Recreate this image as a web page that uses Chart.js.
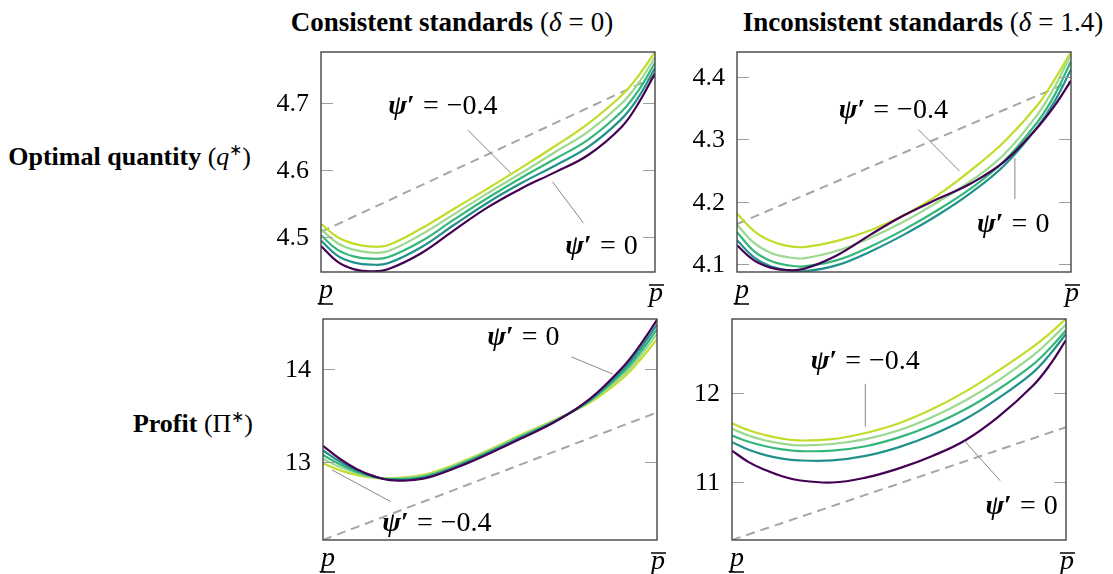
<!DOCTYPE html>
<html>
<head>
<meta charset="utf-8">
<script src="https://cdn.jsdelivr.net/npm/chart.js@4.4.0/dist/chart.umd.min.js"></script>
<style>
body { margin: 0; background: #fff; width: 1113px; height: 574px; position: relative; overflow: hidden; font-family: "Liberation Serif", "Times New Roman", serif; color: #000; }
canvas { position: absolute; }
.lbl { position: absolute; font-size: 26px; white-space: nowrap; line-height: 30px; }
.col { font-size: 27px; transform: translateX(-50%); }
.eq { margin: 0 7px; }
sup { font-size: 16px; }
.txt { position: absolute; white-space: nowrap; line-height: normal; }
.tick { font-size: 26px; transform: translate(-100%, -50%); }
.note { font-size: 28px; transform: translate(-50%, -50%); }
.note .eq { margin: 0 8px; }
.plab { font-size: 28px; font-style: italic; transform: translateX(-50%); }
</style>
</head>
<body>
<div class="lbl col" style="left:452px;top:7px"><b>Consistent standards</b> (<i>δ</i><span class="eq">=</span>0)</div>
<div class="lbl col" style="left:923px;top:7px"><b>Inconsistent standards</b> (<i>δ</i><span class="eq">=</span>1.4)</div>
<div class="lbl" style="right:862px;top:135px;text-align:right"><b>Optimal quantity</b> (<i>q</i><sup>∗</sup>)</div>
<div class="lbl" style="right:860px;top:402px;text-align:right"><b>Profit</b> (Π<sup>∗</sup>)</div>
<canvas id="qCons"></canvas>
<canvas id="qIncons"></canvas>
<canvas id="profitCons"></canvas>
<canvas id="profitIncons"></canvas>
<script>
// price grid, p_lower = 0 ... p_upper = 1
var pGrid = [0, 0.05, 0.1, 0.15, 0.2, 0.3, 0.4, 0.5, 0.6, 0.7, 0.8, 0.9, 0.95, 1];
var psiColors = ['#440154', '#21918c', '#35b779', '#9bd98f', '#c2dc2a'];

// optimal quantity, consistent standards (psi' = 0, -0.1, -0.2, -0.3, -0.4)
var qCons0 = [4.487, 4.463, 4.452, 4.449, 4.452, 4.476, 4.511, 4.545, 4.573, 4.597, 4.623, 4.665, 4.700, 4.745];
var qCons1 = [4.495, 4.472, 4.462, 4.459, 4.461, 4.485, 4.519, 4.552, 4.581, 4.607, 4.635, 4.677, 4.709, 4.753];
var qCons2 = [4.503, 4.481, 4.471, 4.468, 4.470, 4.494, 4.527, 4.559, 4.589, 4.617, 4.646, 4.688, 4.719, 4.761];
var qCons3 = [4.512, 4.491, 4.481, 4.477, 4.479, 4.504, 4.535, 4.566, 4.596, 4.627, 4.658, 4.700, 4.730, 4.769];
var qCons4 = [4.520, 4.500, 4.490, 4.486, 4.488, 4.513, 4.543, 4.573, 4.604, 4.636, 4.670, 4.712, 4.741, 4.777];
var qConsBench = [4.508, 4.740];

// optimal quantity, inconsistent standards
var qIncons0 = [4.130, 4.106, 4.094, 4.090, 4.092, 4.114, 4.147, 4.178, 4.204, 4.229, 4.264, 4.319, 4.353, 4.394];
var qIncons1 = [4.138, 4.111, 4.096, 4.090, 4.088, 4.098, 4.120, 4.147, 4.178, 4.214, 4.258, 4.320, 4.360, 4.412];
var qIncons2 = [4.151, 4.121, 4.105, 4.098, 4.096, 4.106, 4.128, 4.155, 4.186, 4.221, 4.265, 4.328, 4.370, 4.425];
var qIncons3 = [4.163, 4.134, 4.118, 4.111, 4.109, 4.121, 4.142, 4.168, 4.199, 4.233, 4.276, 4.340, 4.383, 4.436];
var qIncons4 = [4.181, 4.153, 4.137, 4.129, 4.127, 4.137, 4.154, 4.178, 4.210, 4.250, 4.296, 4.355, 4.395, 4.440];
var qInconsBench = [4.164, 4.393];

// profit, consistent standards
var profitCons0 = [13.17, 13.03, 12.92, 12.845, 12.80, 12.815, 12.935, 13.09, 13.26, 13.44, 13.68, 14.03, 14.26, 14.53];
var profitCons1 = [13.12, 13.00, 12.905, 12.84, 12.805, 12.825, 12.945, 13.10, 13.27, 13.445, 13.67, 14.00, 14.22, 14.48];
var profitCons2 = [13.07, 12.97, 12.89, 12.835, 12.81, 12.835, 12.955, 13.11, 13.28, 13.45, 13.66, 13.97, 14.18, 14.43];
var profitCons3 = [13.03, 12.94, 12.875, 12.83, 12.815, 12.845, 12.965, 13.12, 13.29, 13.455, 13.65, 13.94, 14.14, 14.38];
var profitCons4 = [12.98, 12.905, 12.855, 12.825, 12.82, 12.855, 12.975, 13.13, 13.30, 13.46, 13.64, 13.91, 14.10, 14.32];
var profitConsBench = [12.152, 13.53];

// profit, inconsistent standards
var profitIncons0 = [11.35, 11.22, 11.13, 11.06, 11.015, 10.99, 11.045, 11.15, 11.29, 11.47, 11.74, 12.08, 12.31, 12.60];
var profitIncons1 = [11.446, 11.36, 11.30, 11.26, 11.24, 11.24, 11.29, 11.39, 11.53, 11.71, 11.95, 12.23, 12.43, 12.67];
var profitIncons2 = [11.52, 11.45, 11.40, 11.365, 11.345, 11.35, 11.40, 11.50, 11.64, 11.82, 12.05, 12.32, 12.50, 12.71];
var profitIncons3 = [11.597, 11.52, 11.465, 11.43, 11.41, 11.425, 11.48, 11.58, 11.73, 11.92, 12.15, 12.42, 12.59, 12.775];
var profitIncons4 = [11.66, 11.58, 11.525, 11.485, 11.465, 11.48, 11.55, 11.66, 11.82, 12.02, 12.26, 12.52, 12.67, 12.84];
var profitInconsBench = [10.34, 11.615];

var qConsTicks = [4.5, 4.6, 4.7];
var qInconsTicks = [4.1, 4.2, 4.3, 4.4];
var profitConsTicks = [13, 14];
var profitInconsTicks = [11, 12];

var Y_W = 60, PAD_T = 16, PAD_R = 20, X_H = 42;

function line(ctx, x1, y1, x2, y2) {
    ctx.beginPath();
    ctx.moveTo(x1, y1);
    ctx.lineTo(x2, y2);
    ctx.stroke();
}

function addText(cls, html, x, y) {
    var d = document.createElement('div');
    d.className = 'txt ' + cls;
    d.innerHTML = html;
    d.style.left = x + 'px';
    d.style.top = y + 'px';
    document.body.appendChild(d);
}

// frame, inner ticks, p bars and pointer lines
var framePlugin = {
    id: 'frame',
    afterDatasetsDraw(chart, args, opts) {
        var ctx = chart.ctx, a = chart.chartArea, xs = chart.scales.x, ys = chart.scales.y;
        ctx.save();
        ctx.strokeStyle = '#a0a0a0';
        ctx.lineWidth = 1;
        ys.ticks.forEach(function (t) {
            var py = Math.round(ys.getPixelForValue(t.value)) + 0.5;
            line(ctx, a.left, py, a.left + 12, py);
            line(ctx, a.right - 12, py, a.right, py);
        });
        ctx.strokeStyle = '#454545';
        ctx.lineWidth = 1.4;
        ctx.strokeRect(a.left, a.top, a.right - a.left, a.bottom - a.top);

        // bars of p lower / p upper
        ctx.strokeStyle = '#000';
        ctx.lineWidth = 1.5;
        var x0 = xs.getPixelForValue(0) + 5, x1 = xs.getPixelForValue(1) + 1;
        line(ctx, x0 - 8, a.bottom + 32, x0 + 7, a.bottom + 32);
        line(ctx, x1 - 7, a.bottom + 13, x1 + 8, a.bottom + 13);

        ctx.strokeStyle = '#888';
        ctx.lineWidth = 1;
        (opts.notes || []).forEach(function (n) {
            line(ctx, xs.getPixelForValue(n.from[0]), ys.getPixelForValue(n.from[1]),
                xs.getPixelForValue(n.to[0]), ys.getPixelForValue(n.to[1]));
        });
        ctx.restore();
    }
};

function makePanel(id, box, series, bench, ticksY, yMin, yMax, dec, notes) {
    var canvas = document.getElementById(id);
    var offX = box.left - Y_W, offY = box.top - PAD_T;
    canvas.width = Y_W + box.w + PAD_R;
    canvas.height = PAD_T + box.h + X_H;
    canvas.style.left = offX + 'px';
    canvas.style.top = offY + 'px';

    var datasets = series.map(function (arr, i) {
        return {
            data: pGrid.map(function (p, k) { return { x: p, y: arr[k] }; }),
            borderColor: psiColors[i],
            borderWidth: 2.2,
            tension: 0.4,
            pointRadius: 0,
            fill: false
        };
    });
    datasets.push({
        data: [{ x: 0, y: bench[0] }, { x: 1, y: bench[1] }],
        borderColor: '#a6a6a6',
        borderWidth: 2,
        borderDash: [9, 6],
        pointRadius: 0,
        fill: false
    });

    var chart = new Chart(canvas.getContext('2d'), {
        type: 'line',
        data: { datasets: datasets },
        options: {
            responsive: false,
            animation: false,
            events: [],
            layout: { padding: { top: PAD_T, right: PAD_R, left: 0, bottom: 0 } },
            plugins: { legend: { display: false }, tooltip: { enabled: false }, frame: { notes: notes } },
            scales: {
                x: {
                    type: 'linear', min: 0, max: 1,
                    grid: { display: false }, border: { display: false },
                    ticks: { display: false },
                    afterFit: function (s) { s.height = X_H; }
                },
                y: {
                    min: yMin, max: yMax,
                    grid: { display: false }, border: { display: false },
                    afterBuildTicks: function (s) { s.ticks = ticksY.map(function (v) { return { value: v }; }); },
                    ticks: { display: false },
                    afterFit: function (s) { s.width = Y_W; }
                }
            }
        },
        plugins: [framePlugin]
    });

    // text as html, placed through the chart scales
    var a = chart.chartArea, xs = chart.scales.x, ys = chart.scales.y;
    ticksY.forEach(function (v) {
        addText('tick', v.toFixed(dec), offX + a.left - 12, offY + ys.getPixelForValue(v));
    });
    addText('plab', 'p', offX + xs.getPixelForValue(0) + 5, offY + a.bottom + 1);
    addText('plab', 'p', offX + xs.getPixelForValue(1) + 1, offY + a.bottom + 4);
    notes.forEach(function (n) {
        addText('note', '<b><i>ψ</i>′</b><span class="eq">=</span>' + n.val,
            offX + xs.getPixelForValue(n.x), offY + ys.getPixelForValue(n.y));
    });
    return chart;
}

makePanel('qCons', { left: 321, top: 52, w: 334, h: 220 },
    [qCons0, qCons1, qCons2, qCons3, qCons4], qConsBench, qConsTicks, 4.448, 4.777, 1,
    [{ val: '−0.4', x: 0.365, y: 4.697, from: [0.44, 4.66], to: [0.568, 4.596] },
     { val: '0', x: 0.84, y: 4.489, from: [0.693, 4.583], to: [0.786, 4.521] }]);

makePanel('qIncons', { left: 737, top: 52, w: 334, h: 220 },
    [qIncons0, qIncons1, qIncons2, qIncons3, qIncons4], qInconsBench, qInconsTicks, 4.087, 4.44, 1,
    [{ val: '−0.4', x: 0.468, y: 4.349, from: [0.542, 4.316], to: [0.666, 4.249] },
     { val: '0', x: 0.827, y: 4.165, from: [0.832, 4.27], to: [0.832, 4.204] }]);

makePanel('profitCons', { left: 323, top: 319, w: 334, h: 221 },
    [profitCons0, profitCons1, profitCons2, profitCons3, profitCons4], profitConsBench, profitConsTicks, 12.152, 14.54, 0,
    [{ val: '0', x: 0.6, y: 14.353, from: [0.744, 14.13], to: [0.867, 13.946] },
     { val: '−0.4', x: 0.341, y: 12.349, from: [0.027, 12.909], to: [0.203, 12.566] }]);

makePanel('profitIncons', { left: 732, top: 319, w: 334, h: 221 },
    [profitIncons0, profitIncons1, profitIncons2, profitIncons3, profitIncons4], profitInconsBench, profitInconsTicks, 10.34, 12.838, 0,
    [{ val: '−0.4', x: 0.399, y: 12.377, from: [0.399, 12.105], to: [0.399, 11.622] },
     { val: '0', x: 0.867, y: 10.735, from: [0.696, 11.46], to: [0.803, 11.01] }]);
</script>
</body>
</html>
